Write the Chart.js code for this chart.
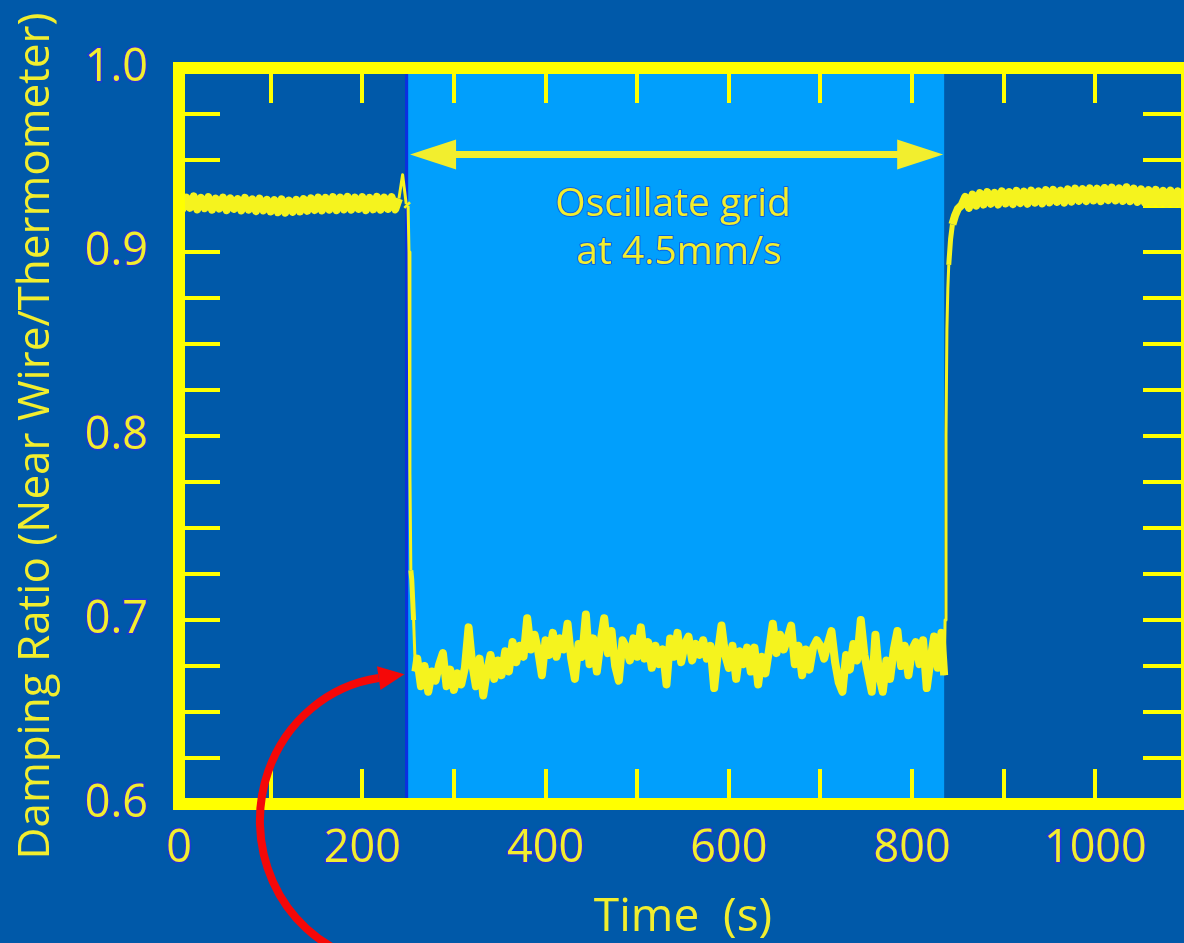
<!DOCTYPE html>
<html>
<head>
<meta charset="utf-8">
<script src="https://cdn.jsdelivr.net/npm/chart.js@4.4.1/dist/chart.umd.min.js"></script>
<style>
  html, body { margin: 0; padding: 0; background: #0059a9; overflow: hidden; width: 1184px; height: 943px; }
  canvas { display: block; }
</style>
</head>
<body>
<canvas id="chart" width="1200" height="943"></canvas>
<script>
// Sample clock of the logger (seconds), used to pair each reading with its time.
function sampleClock(start, end, step) {
  const t = [];
  for (let v = start; v <= end + 1e-9; v += step) t.push(v);
  return t;
}

// Still grid: damping ratio before the oscillation starts (0 - 248 s, every 4 s)
const beforeTimes = sampleClock(0, 248, 4);
const beforeRatio = [
  0.9300, 0.9235, 0.9296, 0.9240, 0.9302, 0.9232, 0.9294, 0.9238, 0.9298, 0.9230,
  0.9290, 0.9236, 0.9296, 0.9228, 0.9292, 0.9234, 0.9288, 0.9226, 0.9294, 0.9230,
  0.9286, 0.9222, 0.9290, 0.9226, 0.9284, 0.9220, 0.9282, 0.9216, 0.9286, 0.9214,
  0.9280, 0.9218, 0.9284, 0.9220, 0.9288, 0.9224, 0.9292, 0.9228, 0.9296, 0.9226,
  0.9294, 0.9230, 0.9298, 0.9228, 0.9296, 0.9232, 0.9300, 0.9230, 0.9296, 0.9234,
  0.9298, 0.9228, 0.9294, 0.9232, 0.9300, 0.9230, 0.9296, 0.9234, 0.9298, 0.9232,
  0.9290, 0.9420, 0.9260
];

// Grid starts to move: fast drop
const dropTimes = [250, 251, 252, 253, 254, 256, 258];
const dropRatio = [0.925, 0.900, 0.780, 0.727, 0.722, 0.700, 0.672];

// Oscillating grid at 4.5 mm/s (260 - 832 s, every 4 s)
const duringTimes = sampleClock(260, 832, 4);
const duringRatio = [
  0.679, 0.664, 0.675, 0.661, 0.672,
  0.667, 0.676, 0.682, 0.664, 0.673, 0.662, 0.671, 0.665, 0.674,
  0.696,
  0.676, 0.664, 0.679, 0.659, 0.672,
  0.681, 0.668, 0.678, 0.670, 0.683, 0.672,
  0.688, 0.677, 0.686, 0.680,
  0.701,
  0.684, 0.692, 0.683, 0.670, 0.689, 0.681, 0.693, 0.680, 0.690, 0.684, 0.698, 0.679,
  0.668,
  0.687, 0.680, 0.703,
  0.676, 0.690, 0.672, 0.688,
  0.701,
  0.682, 0.694, 0.675, 0.667, 0.689,
  0.685, 0.678, 0.690, 0.680,
  0.696,
  0.679, 0.688, 0.674, 0.686, 0.676, 0.684,
  0.665,
  0.690, 0.680, 0.693, 0.677, 0.687, 0.691,
  0.678, 0.687, 0.681, 0.689, 0.679, 0.686,
  0.663,
  0.682,
  0.697,
  0.681, 0.674, 0.686, 0.668, 0.683, 0.676, 0.685,
  0.672, 0.685, 0.665, 0.680, 0.671, 0.684,
  0.698,
  0.682, 0.692, 0.684, 0.690, 0.697,
  0.676, 0.686, 0.670, 0.684, 0.673, 0.685,
  0.689, 0.686, 0.679, 0.687, 0.694,
  0.677, 0.666, 0.661,
  0.681, 0.673, 0.687, 0.678,
  0.700,
  0.681, 0.671, 0.661,
  0.692,
  0.670, 0.661,
  0.678, 0.668, 0.684,
  0.694,
  0.675, 0.686, 0.670, 0.684,
  0.688, 0.676, 0.689,
  0.663, 0.678, 0.691, 0.674, 0.693
];

// Grid stopped: recovery
const recoveryTimes = [835, 836, 837, 838, 839, 840, 842, 844, 847, 850, 854];
const recoveryRatio = [0.670, 0.700, 0.800, 0.858, 0.880, 0.893, 0.907, 0.915, 0.920, 0.9235, 0.9255];

// Still grid again (858 - 1098 s, every 4 s)
const afterTimes = sampleClock(858, 1098, 4);
const afterRatio = [
  0.9300, 0.9240, 0.9312, 0.9252, 0.9320, 0.9258, 0.9326, 0.9262, 0.9322, 0.9258,
  0.9330, 0.9264, 0.9326, 0.9260, 0.9332, 0.9266, 0.9328, 0.9262, 0.9334, 0.9268,
  0.9330, 0.9264, 0.9336, 0.9270, 0.9338, 0.9272, 0.9334, 0.9268, 0.9340, 0.9274,
  0.9344, 0.9278, 0.9342, 0.9276, 0.9346, 0.9280, 0.9344, 0.9276, 0.9348, 0.9282,
  0.9350, 0.9280, 0.9346, 0.9278, 0.9352, 0.9276, 0.9344, 0.9272, 0.9340, 0.9270,
  0.9336, 0.9268, 0.9338, 0.9266, 0.9332, 0.9262, 0.9334, 0.9264, 0.9330, 0.9260,
  0.9332
];

// Axis ranges and tick spacing
const timeRange = [0, 1100];
const timeTickStep = 100;
const timeLabelStep = 200;
const ratioRange = [0.6, 1.0];
const ratioTickStep = 0.025;

// Annotations
const oscillationWindow = [250, 835];
const arrowLevel = 0.953;
const windowNote = ['Oscillate grid', 'at 4.5mm/s'];
const pointerTip = [246, 0.6705];

const FONT = '"Open Sans", "Noto Sans", "DejaVu Sans", sans-serif';
const DARK = '#0059a9';
const LIGHT = '#019ffc';
const FRAME = '#ffff00';
const INK = '#f2ee2e';
const TRACE = '#f5f31e';
const HALO = '#2236d6';

function pair(times, values) {
  const n = Math.min(times.length, values.length);
  const out = [];
  for (let i = 0; i < n; i++) out.push({ x: times[i], y: values[i] });
  return out;
}

const trace = [].concat(
  pair(beforeTimes, beforeRatio),
  pair(dropTimes, dropRatio),
  pair(duringTimes, duringRatio),
  pair(recoveryTimes, recoveryRatio),
  pair(afterTimes, afterRatio)
);

// Pen width per segment: thin on the steep jumps and the lone spike,
// medium through the transition zone, full width on the noisy plateaus.
function segmentPen(ctx) {
  const a = ctx.p0.parsed, b = ctx.p1.parsed;
  const d = Math.abs(b.y - a.y);
  const rate = d / Math.max(Math.abs(b.x - a.x), 1e-9);
  const lo = Math.min(a.y, b.y), hi = Math.max(a.y, b.y);
  if (rate > 0.012 || (d > 0.01 && lo > 0.9)) return 3;
  if (lo > 0.695 && hi < 0.916) return 5;
  return 8;
}

// Fixed box sizes so the plot frame sits at a set place; label overhang is ignored.
function fixBox(size) {
  return s => {
    if (s.isHorizontal()) s.height = size; else s.width = size;
    s.paddingLeft = 0; s.paddingRight = 0; s.paddingTop = 0; s.paddingBottom = 0;
  };
}

// Background and the shaded oscillation window
const backdrop = {
  id: 'backdrop',
  beforeDraw(chart) {
    const { ctx, chartArea, scales } = chart;
    ctx.save();
    ctx.fillStyle = DARK;
    ctx.fillRect(0, 0, chart.width, chart.height);
    const x0 = scales.x.getPixelForValue(oscillationWindow[0]);
    const x1 = scales.x.getPixelForValue(oscillationWindow[1]);
    ctx.fillStyle = LIGHT;
    ctx.fillRect(x0, chartArea.top, x1 - x0, chartArea.bottom - chartArea.top);
    ctx.fillStyle = '#0b2fe0';
    ctx.fillRect(x0 - 3, chartArea.top, 3, chartArea.bottom - chartArea.top);
    ctx.restore();
  }
};

// Double arrow, caption and red pointer
const notes = {
  id: 'notes',
  afterDraw(chart) {
    const { ctx, scales } = chart;
    const x0 = scales.x.getPixelForValue(oscillationWindow[0]);
    const x1 = scales.x.getPixelForValue(oscillationWindow[1]);
    const ay = scales.y.getPixelForValue(arrowLevel);
    ctx.save();

    // double-headed arrow across the window
    const head = 46, half = 15;
    ctx.strokeStyle = INK;
    ctx.fillStyle = INK;
    ctx.lineWidth = 7;
    ctx.beginPath();
    ctx.moveTo(x0 + head - 4, ay);
    ctx.lineTo(x1 - head + 4, ay);
    ctx.stroke();
    ctx.beginPath();
    ctx.moveTo(x0 + 2, ay);
    ctx.lineTo(x0 + 2 + head, ay - half);
    ctx.lineTo(x0 + 2 + head, ay + half);
    ctx.closePath();
    ctx.fill();
    ctx.beginPath();
    ctx.moveTo(x1 - 1, ay);
    ctx.lineTo(x1 - 1 - head, ay - half);
    ctx.lineTo(x1 - 1 - head, ay + half);
    ctx.closePath();
    ctx.fill();

    // caption
    const cx = (x0 + x1) / 2;
    ctx.font = '39px ' + FONT;
    ctx.textAlign = 'center';
    ctx.textBaseline = 'alphabetic';
    ctx.lineJoin = 'round';
    ctx.lineWidth = 2;
    ctx.strokeStyle = 'rgba(20,60,210,0.6)';
    windowNote.forEach((line, i) => {
      const by = ay + 62 + i * 48;
      ctx.strokeText(line, cx - 3 + i * 6, by);
      ctx.fillText(line, cx - 3 + i * 6, by);
    });

    // red curved pointer ending at the trace
    const tipX = scales.x.getPixelForValue(pointerTip[0]);
    const tipY = scales.y.getPixelForValue(pointerTip[1]);
    const rx = 138, ry = 144;
    const endAng = 262 * Math.PI / 180;
    const startAng = 110 * Math.PI / 180;
    let dx = -rx * Math.sin(endAng), dy = ry * Math.cos(endAng);
    const len = Math.hypot(dx, dy); dx /= len; dy /= len;
    const headLen = 26, headHalf = 12;
    const ex = tipX - dx * headLen, ey = tipY - dy * headLen;
    const ecx = ex - rx * Math.cos(endAng), ecy = ey - ry * Math.sin(endAng);
    ctx.strokeStyle = '#f50808';
    ctx.fillStyle = '#f50808';
    ctx.lineWidth = 8;
    ctx.lineCap = 'butt';
    ctx.beginPath();
    ctx.ellipse(ecx, ecy, rx, ry, 0, startAng, endAng, false);
    ctx.stroke();
    ctx.beginPath();
    ctx.moveTo(tipX, tipY);
    ctx.lineTo(ex - dy * headHalf, ey + dx * headHalf);
    ctx.lineTo(ex + dy * headHalf, ey - dx * headHalf);
    ctx.closePath();
    ctx.fill();
    ctx.restore();
  }
};

const frameBorder = { display: true, color: FRAME, width: 12, z: 1 };
const tickFont = { family: FONT, size: 45 };

new Chart(document.getElementById('chart'), {
  type: 'line',
  data: {
    datasets: [{
      data: trace,
      borderColor: TRACE,
      borderWidth: 8,
      pointRadius: 0,
      tension: 0,
      fill: false,
      borderJoinStyle: 'round',
      segment: {
        borderWidth: segmentPen
      }
    }]
  },
  options: {
    responsive: false,
    animation: false,
    devicePixelRatio: 1,
    layout: { padding: 0 },
    plugins: { legend: { display: false }, tooltip: { enabled: false } },
    scales: {
      x: {
        type: 'linear', position: 'bottom',
        min: timeRange[0], max: timeRange[1],
        afterFit: fixBox(139),
        ticks: {
          stepSize: timeTickStep, autoSkip: false, maxRotation: 0, minRotation: 0,
          padding: 53, color: INK, font: tickFont,
          textStrokeColor: HALO, textStrokeWidth: 3,
          callback: v => (Math.abs(v % timeLabelStep) < 1e-6 ? String(v) : '')
        },
        grid: { drawOnChartArea: false, drawTicks: true, tickLength: -35, color: FRAME, lineWidth: 4 },
        border: frameBorder,
        title: {
          display: true, text: 'Time  (s)', color: INK,
          font: { family: FONT, size: 46, lineHeight: 1.1 },
          padding: { top: 0, bottom: 0 }
        }
      },
      xTop: {
        type: 'linear', axis: 'x', position: 'top',
        min: timeRange[0], max: timeRange[1],
        afterFit: fixBox(68),
        ticks: { display: false, stepSize: timeTickStep, autoSkip: false },
        grid: { drawOnChartArea: false, drawTicks: true, tickLength: -35, color: FRAME, lineWidth: 4 },
        border: frameBorder
      },
      y: {
        type: 'linear', position: 'left',
        min: ratioRange[0], max: ratioRange[1],
        afterFit: fixBox(179),
        ticks: {
          stepSize: ratioTickStep, autoSkip: false,
          padding: 72, color: INK, font: tickFont,
          textStrokeColor: HALO, textStrokeWidth: 3,
          callback: v => (Math.abs(v * 10 - Math.round(v * 10)) < 1e-6 ? v.toFixed(1) : '')
        },
        grid: { drawOnChartArea: false, drawTicks: true, tickLength: -41, color: FRAME, lineWidth: 4 },
        border: frameBorder,
        title: {
          display: true, text: 'Damping Ratio (Near Wire/Thermometer)', color: INK,
          font: { family: FONT, size: 44, lineHeight: 1.1 },
          padding: { top: 12, bottom: 0 }
        }
      },
      yRight: {
        type: 'linear', axis: 'y', position: 'right',
        min: ratioRange[0], max: ratioRange[1],
        afterFit: fixBox(13),
        ticks: { display: false, stepSize: ratioTickStep, autoSkip: false },
        grid: { drawOnChartArea: false, drawTicks: true, tickLength: -44, color: FRAME, lineWidth: 4 },
        border: frameBorder
      }
    }
  },
  plugins: [backdrop, notes]
});
</script>
</body>
</html>
